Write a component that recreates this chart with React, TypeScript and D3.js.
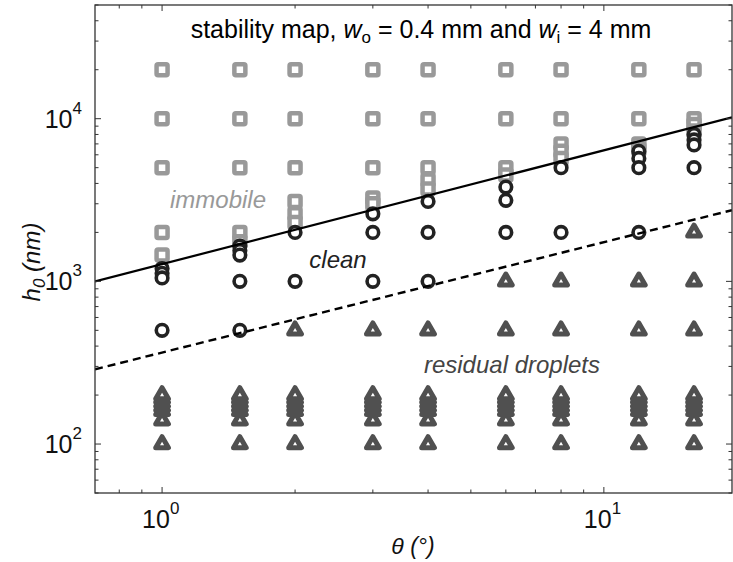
import * as d3 from "d3";

const W = 733;
const H = 562;
const left = 95;
const right = 732;
const top = 5;
const bottom = 493;

// column positions (theta, degrees)
const thetas = [1, 1.5, 2, 3, 4, 6, 8, 12, 16];

// immobile (squares): [theta, h0 nm]
const immobile: [number, number][] = [
  [1, 20000], [1, 10000], [1, 5000], [1, 2000], [1, 1450],
  [1.5, 20000], [1.5, 10000], [1.5, 5000], [1.5, 2000], [1.5, 1750],
  [2, 20000], [2, 10000], [2, 5000], [2, 3100], [2, 2600], [2, 2300],
  [3, 20000], [3, 10000], [3, 5000], [3, 3250], [3, 3000],
  [4, 20000], [4, 10000], [4, 5000], [4, 4200], [4, 3700],
  [6, 20000], [6, 10000], [6, 5000], [6, 4500],
  [8, 20000], [8, 10000], [8, 7000], [8, 6300], [8, 5700],
  [12, 20000], [12, 10000], [12, 7000], [12, 6500],
  [16, 20000], [16, 10000], [16, 9200], [16, 8400],
];

// clean (circles)
const clean: [number, number][] = [
  [1, 1200], [1, 1120], [1, 1050], [1, 500],
  [1.5, 1650], [1.5, 1550], [1.5, 1450], [1.5, 1000], [1.5, 500],
  [2, 2000], [2, 1000],
  [3, 2600], [3, 2000], [3, 1000],
  [4, 3100], [4, 2000], [4, 1000],
  [6, 3800], [6, 3150], [6, 2000],
  [8, 5000], [8, 2000],
  [12, 6300], [12, 5700], [12, 5000], [12, 2000],
  [16, 8000], [16, 7400], [16, 6900], [16, 5000],
];

// residual droplets (triangles)
const lowStack = [100, 140, 160, 170, 180, 190, 200];
const residualMid: [number, number][] = [
  [2, 500], [3, 500], [4, 500], [6, 500], [8, 500], [12, 500], [16, 500],
  [6, 1000], [8, 1000], [12, 1000], [16, 1000],
  [16, 2000],
];

// boundary lines (end points)
const lineTheta = [0.705, 19.5];
const solidH = [1000, 10200];
const dashedH = [288, 2740];

const xTicksMajor = [1, 10];
const yTicksMajor = [100, 1000, 10000];

const x = d3.scaleLog().domain([0.705, 19.5]).range([left, right]);
const y = d3.scaleLog().domain([50, 50000]).range([bottom, top]);

const residual: [number, number][] = [
  ...thetas.flatMap((t) => lowStack.map((h) => [t, h] as [number, number])),
  ...residualMid,
];

const tri = d3.symbol().type(d3.symbolTriangle).size(70)();

function minorTicks(domain: [number, number]) {
  const out: number[] = [];
  for (let e = -1; e <= 5; e++) {
    for (let m = 1; m <= 9; m++) {
      const v = m * Math.pow(10, e);
      if (v >= domain[0] && v <= domain[1]) out.push(v);
    }
  }
  return out;
}

export default function App() {
  const font = "Arial, 'Liberation Sans', sans-serif";
  const xt = minorTicks([0.705, 19.5]);
  const yt = minorTicks([50, 50000]);
  const line = d3
    .line<number>()
    .x((d) => x(d))
    .y((d, i) => y(solidH[i]));
  const dline = d3
    .line<number>()
    .x((d) => x(d))
    .y((d, i) => y(dashedH[i]));

  return (
    <svg
      width={W}
      height={H}
      style={{ position: "absolute", left: 0, top: 0, background: "#fff" }}
      fontFamily={font}
    >
      <defs>
        <clipPath id="plot">
          <rect x={left} y={top} width={right - left} height={bottom - top} />
        </clipPath>
      </defs>

      <g clipPath="url(#plot)">
        {immobile.map(([t, h], i) => (
          <rect
            key={"s" + i}
            x={x(t) - 5.5}
            y={y(h) - 5.5}
            width={11}
            height={11}
            rx={1.5}
            fill="#fff"
            stroke="#999"
            strokeWidth={4.5}
          />
        ))}
        {clean.map(([t, h], i) => (
          <circle
            key={"c" + i}
            cx={x(t)}
            cy={y(h)}
            r={5.8}
            fill="#fff"
            stroke="#222"
            strokeWidth={3.6}
          />
        ))}
        {residual.map(([t, h], i) => (
          <path
            key={"t" + i}
            d={tri!}
            transform={`translate(${x(t)},${y(h)})`}
            fill="#fff"
            stroke="#505050"
            strokeWidth={5}
            strokeLinejoin="round"
          />
        ))}
        <path d={line(lineTheta)!} fill="none" stroke="#000" strokeWidth={2.2} />
        <path
          d={dline(lineTheta)!}
          fill="none"
          stroke="#000"
          strokeWidth={2.4}
          strokeDasharray="8,5"
        />
      </g>

      {/* axes box */}
      <rect
        x={left}
        y={top}
        width={right - left}
        height={bottom - top}
        fill="none"
        stroke="#333"
        strokeWidth={1.3}
      />
      {xt.map((v, i) => {
        const major = xTicksMajor.includes(v);
        const len = major ? 6 : 3.5;
        return (
          <g key={"xt" + i} stroke="#333" strokeWidth={1}>
            <line x1={x(v)} x2={x(v)} y1={bottom} y2={bottom - len} />
            <line x1={x(v)} x2={x(v)} y1={top} y2={top + len} />
          </g>
        );
      })}
      {yt.map((v, i) => {
        const major = yTicksMajor.includes(v);
        const len = major ? 6 : 3.5;
        return (
          <g key={"yt" + i} stroke="#333" strokeWidth={1}>
            <line x1={left} x2={left + len} y1={y(v)} y2={y(v)} />
            <line x1={right} x2={right - len} y1={y(v)} y2={y(v)} />
          </g>
        );
      })}

      {yTicksMajor.map((v) => (
        <text
          key={"yl" + v}
          x={left - 13}
          y={y(v) + 9}
          fontSize={25}
          textAnchor="end"
          fill="#111"
        >
          10
          <tspan fontSize={17} dy={-14}>
            {Math.round(Math.log10(v))}
          </tspan>
        </text>
      ))}
      {xTicksMajor.map((v) => (
        <text
          key={"xl" + v}
          x={x(v) - 20}
          y={528}
          fontSize={25}
          fill="#111"
        >
          10
          <tspan fontSize={17} dy={-14}>
            {Math.round(Math.log10(v))}
          </tspan>
        </text>
      ))}

      <text
        transform={`translate(40,${262}) rotate(-90)`}
        textAnchor="middle"
        fontSize={24}
        fontStyle="italic"
        fill="#111"
      >
        h
        <tspan fontSize={17} dy={5}>
          0
        </tspan>
        <tspan dy={-5}> (nm)</tspan>
      </text>
      <text x={413} y={554} textAnchor="middle" fontSize={23} fontStyle="italic" fill="#111">
        θ (°)
      </text>

      <text x={421} y={38} textAnchor="middle" fontSize={25} fill="#000">
        stability map,{" "}
        <tspan fontStyle="italic">w</tspan>
        <tspan fontSize={17} dy={5}>o</tspan>
        <tspan dy={-5}> = 0.4 mm and </tspan>
        <tspan fontStyle="italic">w</tspan>
        <tspan fontSize={17} dy={5}>i</tspan>
        <tspan dy={-5}> = 4 mm</tspan>
      </text>

      <text x={218} y={208} textAnchor="middle" fontSize={24} fontStyle="italic" fill="#999">
        immobile
      </text>
      <text x={338} y={268} textAnchor="middle" fontSize={24} fontStyle="italic" fill="#222">
        clean
      </text>
      <text x={512} y={373} textAnchor="middle" fontSize={24} fontStyle="italic" fill="#444">
        residual droplets
      </text>
    </svg>
  );
}
